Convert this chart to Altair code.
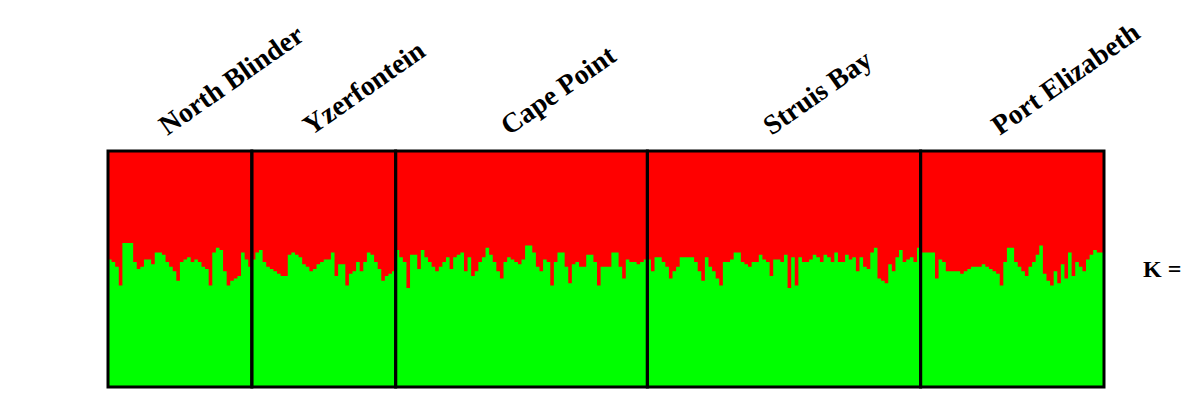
import altair as alt
import pandas as pd

populations = ["North Blinder", "Yzerfontein", "Cape Point", "Struis Bay", "Port Elizabeth"]

# proportion of the green cluster for each individual (red = 1 - green)
north_blinder = [0.54, 0.53, 0.51, 0.43, 0.61, 0.61, 0.61, 0.53, 0.50, 0.51,
                 0.54, 0.54, 0.52, 0.57, 0.57, 0.56, 0.53, 0.51, 0.49, 0.45,
                 0.53, 0.54, 0.55, 0.53, 0.54, 0.53, 0.51, 0.50, 0.43, 0.57,
                 0.59, 0.58, 0.49, 0.43, 0.45, 0.46, 0.47, 0.57, 0.54, 0.51]
yzerfontein = [0.54, 0.57, 0.58, 0.53, 0.51, 0.50, 0.49, 0.48, 0.47, 0.47,
               0.56, 0.57, 0.56, 0.55, 0.52, 0.51, 0.49, 0.50, 0.52, 0.53,
               0.54, 0.54, 0.57, 0.47, 0.52, 0.52, 0.43, 0.48, 0.49, 0.53,
               0.49, 0.53, 0.57, 0.56, 0.53, 0.50, 0.45, 0.47, 0.48, 0.49]
cape_point = [0.58, 0.55, 0.53, 0.42, 0.56, 0.56, 0.50, 0.58, 0.55, 0.53,
              0.51, 0.49, 0.51, 0.53, 0.55, 0.50, 0.55, 0.56, 0.57, 0.49,
              0.55, 0.47, 0.49, 0.53, 0.55, 0.59, 0.56, 0.53, 0.49, 0.46,
              0.53, 0.55, 0.54, 0.53, 0.52,
              0.54, 0.60, 0.60, 0.57, 0.51, 0.49, 0.54, 0.53, 0.43, 0.53,
              0.57, 0.57, 0.51, 0.44, 0.52, 0.53, 0.51, 0.51, 0.56, 0.56,
              0.53, 0.43, 0.51, 0.51, 0.51, 0.57, 0.57, 0.51, 0.46, 0.54,
              0.53, 0.53, 0.52, 0.53, 0.54]
struis_bay = [0.54, 0.49, 0.55, 0.55, 0.53, 0.51, 0.46, 0.49, 0.51, 0.55,
              0.55, 0.55, 0.55, 0.53, 0.49, 0.45, 0.55, 0.51, 0.49, 0.46,
              0.43, 0.53, 0.53, 0.54, 0.57, 0.57, 0.53, 0.52, 0.51, 0.53,
              0.53, 0.56, 0.54, 0.53, 0.47, 0.54, 0.54, 0.53,
              0.56, 0.42, 0.55, 0.43, 0.55, 0.53, 0.53, 0.54, 0.56, 0.55,
              0.53, 0.56, 0.55, 0.53, 0.57, 0.53, 0.53, 0.56, 0.54, 0.55,
              0.49, 0.55, 0.51, 0.50, 0.57, 0.59, 0.46, 0.45, 0.44, 0.52,
              0.49, 0.55, 0.58, 0.53, 0.54, 0.55, 0.53, 0.59]
port_elizabeth = [0.57, 0.57, 0.57, 0.57, 0.46, 0.54, 0.53, 0.49, 0.49, 0.49,
                  0.49, 0.48, 0.49, 0.50, 0.51, 0.51, 0.51, 0.52, 0.51, 0.50,
                  0.49, 0.48, 0.43, 0.53, 0.59, 0.59, 0.53, 0.51, 0.49, 0.47,
                  0.51, 0.53, 0.56, 0.60, 0.48, 0.45, 0.43, 0.49, 0.44, 0.52,
                  0.46, 0.57, 0.47, 0.53, 0.51, 0.49, 0.54, 0.56, 0.58, 0.57,
                  0.57]

red = "#FF0000"
green = "#00FF00"
k_label = "K ="

series = [north_blinder, yzerfontein, cape_point, struis_bay, port_elizabeth]
rows = []
pops = []
idx = 0
for name, vals in zip(populations, series):
    start = idx
    for v in vals:
        rows.append({"idx": idx, "green": v})
        idx += 1
    pops.append({"pop": name, "start": start, "end": idx, "mid": (start + idx) / 2})
N = idx
rows.append({"idx": N, "green": series[-1][-1]})

ind_df = pd.DataFrame(rows)
pop_df = pd.DataFrame(pops)

xs = alt.Scale(domain=[0, N], nice=False, zero=False)
ys = alt.Scale(domain=[0, 1], nice=False)

bg = alt.Chart(pop_df).mark_rect(color=red).transform_calculate(
    lo="0", hi="1"
).encode(
    x=alt.X("start:Q", scale=xs, axis=None),
    x2="end:Q",
    y=alt.Y("lo:Q", scale=ys, axis=None),
    y2="hi:Q",
)

area = alt.Chart(ind_df).mark_area(color=green, interpolate="step-after").encode(
    x=alt.X("idx:Q", scale=xs, axis=None),
    y=alt.Y("green:Q", scale=ys, axis=None),
)

borders = alt.Chart(pop_df).mark_rect(
    fillOpacity=0, stroke="black", strokeWidth=3
).transform_calculate(lo="0", hi="1").encode(
    x=alt.X("start:Q", scale=xs, axis=None),
    x2="end:Q",
    y=alt.Y("lo:Q", scale=ys, axis=None),
    y2="hi:Q",
)

labels = alt.Chart(pop_df).mark_text(
    align="left", baseline="alphabetic", angle=325,
    font="Liberation Serif", fontWeight="bold", fontSize=28, color="black"
).transform_calculate(lx="datum.mid - 3.5").encode(
    x=alt.X("lx:Q", scale=xs, axis=None),
    y=alt.value(-15),
    text="pop:N",
)

klab = alt.Chart(pd.DataFrame({"t": [k_label]})).mark_text(
    align="left", baseline="alphabetic",
    font="Liberation Serif", fontWeight="bold", fontSize=24, color="black"
).encode(
    x=alt.value(1035),
    y=alt.value(126),
    text="t:N",
)

chart = alt.layer(bg, area, borders, labels, klab).properties(
    width=996,
    height=236,
    autosize=alt.AutoSizeParams(type="none"),
    padding={"left": 100, "top": 143, "right": 80, "bottom": 10},
).configure_view(stroke=None)

chart.save("out.html", embed_options={"renderer": "svg", "actions": False})
